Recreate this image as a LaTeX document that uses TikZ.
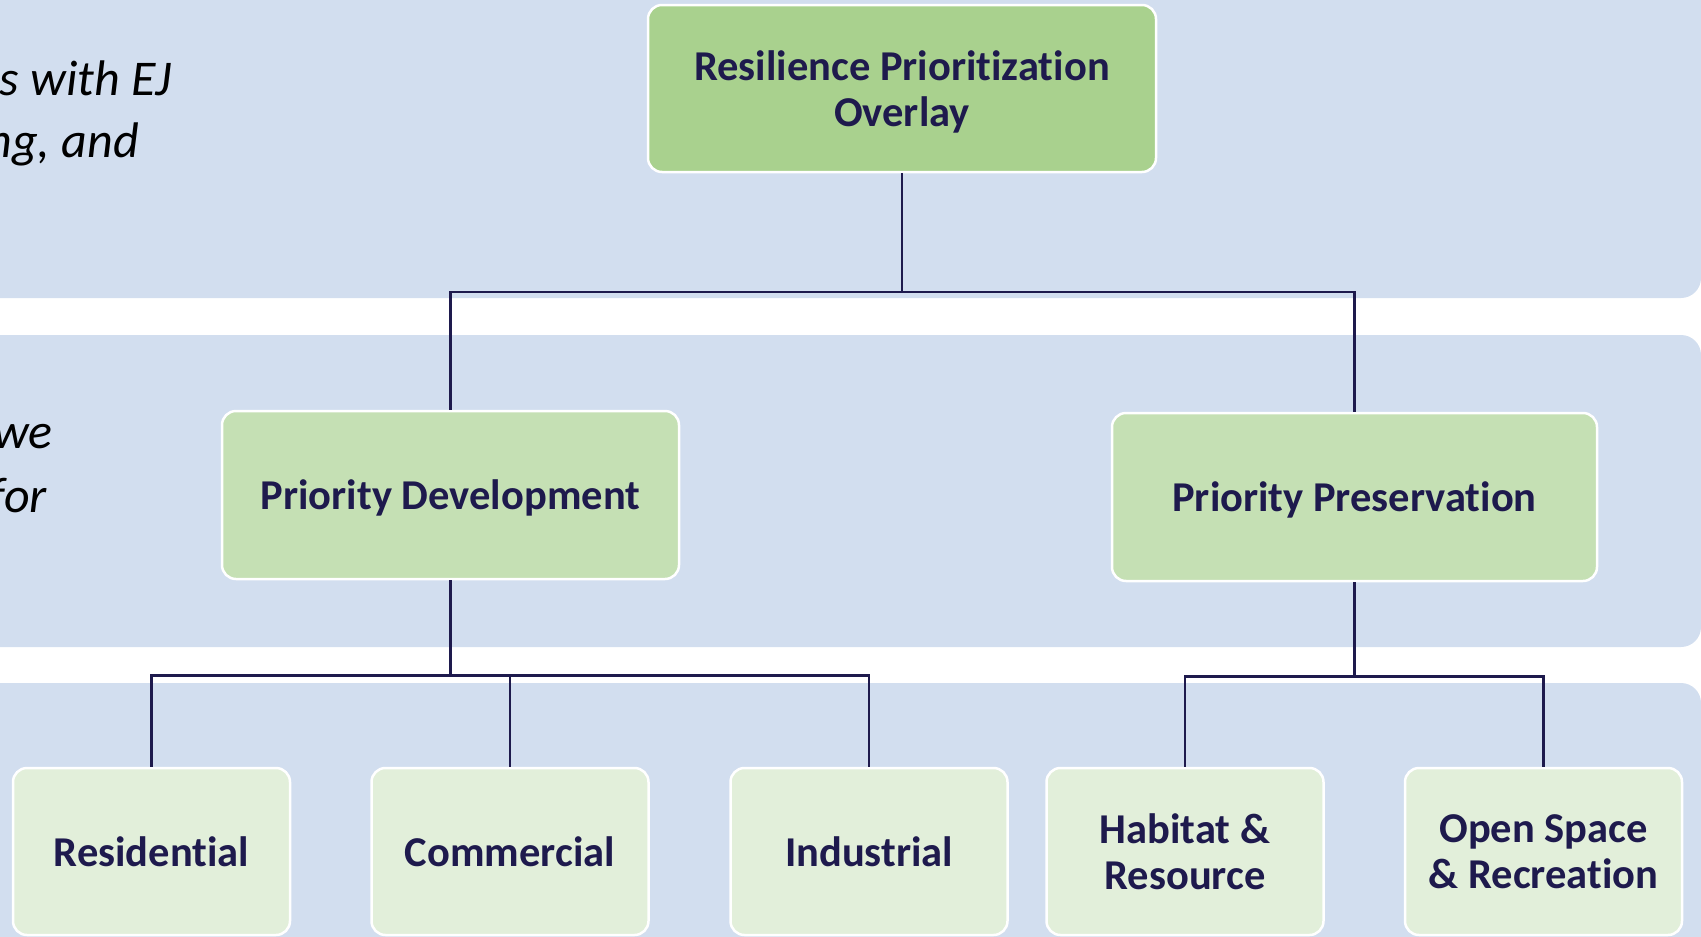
\documentclass[tikz,border=0pt]{standalone}
\usepackage{fontspec}
\setmainfont{Carlito}[Ligatures=NoCommon]
\definecolor{bandblue}{HTML}{D2DEEF}
\definecolor{topgreen}{HTML}{A9D18E}
\definecolor{midgreen}{HTML}{C5E0B4}
\definecolor{leafgreen}{HTML}{E2EFDA}
\definecolor{navy}{HTML}{1E1A4D}

\begin{document}
\begin{tikzpicture}[
  x=1pt, y=-1pt,
  band/.style={fill=bandblue, rounded corners=20pt},
  box/.style={draw=white, line width=2.5pt, rounded corners=14pt, align=center,
    text=navy, font=\fontsize{42.5}{46}\selectfont\bfseries, inner sep=0pt,
    text depth=0pt},
  topbox/.style={box, fill=topgreen, minimum width=508pt, minimum height=167pt},
  midbox/.style={box, fill=midgreen, minimum height=168pt},
  leafbox/.style={box, fill=leafgreen, minimum width=277pt, minimum height=167pt},
  side/.style={anchor=base east, inner sep=0pt, font=\fontsize{50}{60}\selectfont\itshape},
  link/.style={draw=navy, line width=2.5pt},
]
\clip (0,0) rectangle (1701,937);

% bands
\path [band] (-40,-40) rectangle (1701,298);
\path [band] (-40,335) rectangle (1701,647);
\path [band] (-40,683) rectangle (1701,980);

% cut-off side text
\node [side] (t1) at (172,95) {s with EJ};
\node [side] (t2) at (139,157) {ng, and};
\node [side] (t3) at (53,448) {we};
\node [side] (t4) at (47,512) {for};

% boxes
\node [topbox] (ovl) at (902,88.5) {Resilience Prioritization\\Overlay};
\node [midbox, minimum width=457pt] (dev) at (450.5,495) {Priority Development};
\node [midbox, minimum width=485pt] (pres) at (1354.5,497) {Priority Preservation};

\node [leafbox] (res) at (151.5,851.5) {Residential};
\node [leafbox] (com) at (510,851.5) {Commercial};
\node [leafbox] (ind) at (869,851.5) {Industrial};
\node [leafbox] (hab) at (1185,851.5) {Habitat \&\\Resource};
\node [leafbox] (osr) at (1543.5,851.5) {Open Space\\\& Recreation};

% connectors
\coordinate (j1) at (902,292);
\draw [link] (ovl.south) -- (j1) -| (dev.north);
\draw [link] (j1) -| (pres.north);

\foreach \n in {res,com,ind}
  \draw [link] (dev.south) -- ++(0,95) -| (\n.north);
\foreach \n in {hab,osr}
  \draw [link] (pres.south) -- ++(0,94) -| (\n.north);
\end{tikzpicture}
\end{document}
